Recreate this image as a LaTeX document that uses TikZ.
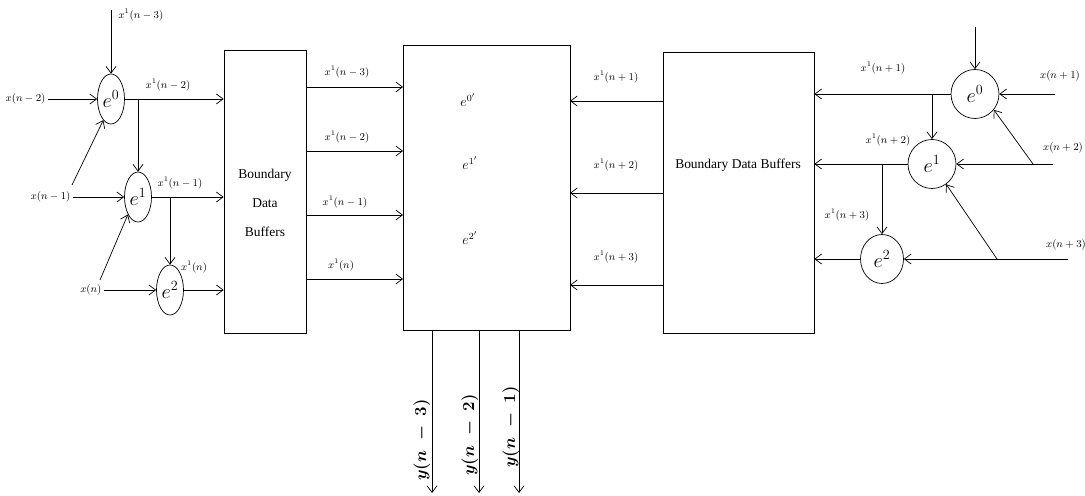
\documentclass[tikz,border=0pt]{standalone}
\usepackage{amsmath}
\usepackage{fontspec}
\setmainfont{Liberation Serif}
\usetikzlibrary{shapes.geometric,arrows.meta}

\begin{document}
\begin{tikzpicture}[x=0.3mm, y=-0.3mm,
    arrowline/.style={draw=black, line width=0.6pt, -{Straight Barb[length=2mm, width=3mm]}},
    lelem/.style={ellipse, draw=black, line width=0.6pt, minimum width=8.1mm, minimum height=15mm, inner sep=0pt, font=\LARGE},
    relem/.style={ellipse, draw=black, line width=0.6pt, minimum width=14.4mm, minimum height=14.7mm, inner sep=0pt, font=\LARGE},
    bufferbox/.style={rectangle, draw=black, line width=0.6pt, inner sep=0pt},
    buftext/.style={font=\fontsize{11.5}{25}\selectfont, align=center},
    sig/.style={font=\small, inner sep=2pt},
    coresig/.style={font=\large},
    outsig/.style={font=\Large\boldmath, rotate=90, inner sep=1pt}
]

\useasboundingbox (0,0) rectangle (1085,496);

% left filter elements
\node[lelem] (le0) at (111,99) {$e^0$};
\node[lelem] (le1) at (138,197) {$e^1$};
\node[lelem] (le2) at (170,290) {$e^2$};

\node[sig, anchor=east] (xnm2) at (48,99) {$x(n-2)$};
\node[sig, anchor=east] (xnm1) at (73,197) {$x(n-1)$};
\node[sig, anchor=east] (xn) at (104,290) {$x(n)$};
\node[sig, anchor=west] (xtop) at (116,15) {$x^1(n-3)$};

\coordinate (ltop) at (111,10);
\coordinate (ld0) at (72,185);
\coordinate (ld1) at (100,280);
\coordinate (lb0) at (le1 |- le0);
\coordinate (lb1) at (le2 |- le1);

\draw[arrowline] (ltop) -- (le0.north);
\draw[arrowline] (xnm2.east) -- (le0.west);
\draw[arrowline] (xnm1.east) -- (le1.west);
\draw[arrowline] (xn.east) -- (le2.west);
\draw[arrowline] (ld0) -- (le0.250);
\draw[arrowline] (ld1) -- (le1.240);
\draw[arrowline] (lb0) -- (le1.north);
\draw[arrowline] (lb1) -- (le2.north);

% left buffers
\node[bufferbox, minimum width=24.6mm, minimum height=84.9mm] (bufL) at (265,191.5) {};
\node[buftext] (bufLtext) at (265,203) {Boundary\\Data\\Buffers};

\draw[arrowline] (le0.east) -- (bufL.west |- le0.east);
\draw[arrowline] (le1.east) -- (bufL.west |- le1.east);
\draw[arrowline] (le2.east) -- (bufL.west |- le2.east);

\node[sig] (lo0) at (168,85) {$x^1(n-2)$};
\node[sig] (lo1) at (180,183) {$x^1(n-1)$};
\node[sig] (lo2) at (194,267) {$x^1(n)$};

% core block
\node[bufferbox, minimum width=50.1mm, minimum height=85.5mm] (core) at (486.5,187.5) {};
\node[coresig] (c0) at (468,100) {$e^{0'}$};
\node[coresig] (c1) at (470,163) {$e^{1'}$};
\node[coresig] (c2) at (470,238) {$e^{2'}$};

\coordinate (cl1) at (403,87);
\coordinate (cl2) at (403,151);
\coordinate (cl3) at (403,215);
\coordinate (cl4) at (403,279);
\coordinate (cr1) at (570,101);
\coordinate (cr2) at (570,193);
\coordinate (cr3) at (570,285);

\draw[arrowline] (bufL.east |- cl1) -- (cl1);
\draw[arrowline] (bufL.east |- cl2) -- (cl2);
\draw[arrowline] (bufL.east |- cl3) -- (cl3);
\draw[arrowline] (bufL.east |- cl4) -- (cl4);

\node[sig] (m1) at (347,72) {$x^1(n-3)$};
\node[sig] (m2) at (347,137) {$x^1(n-2)$};
\node[sig] (m3) at (345,202) {$x^1(n-1)$};
\node[sig] (m4) at (341,265) {$x^1(n)$};

% outputs
\coordinate (yo1) at (432,493);
\coordinate (yo2) at (479,493);
\coordinate (yo3) at (519,493);
\draw[arrowline] (core.south -| yo1) -- (yo1);
\draw[arrowline] (core.south -| yo2) -- (yo2);
\draw[arrowline] (core.south -| yo3) -- (yo3);
\node[outsig] (y1) at (422,440) {$y(n\;-\;3)$};
\node[outsig] (y2) at (470,435) {$y(n\;-\;2)$};
\node[outsig] (y3) at (511,427) {$y(n\;-\;1)$};

% right buffers
\node[bufferbox, minimum width=45.3mm, minimum height=84.3mm] (bufR) at (738.5,192.5) {};
\node[buftext] (bufRtext) at (738,165) {Boundary Data Buffers};

\draw[arrowline] (bufR.west |- cr1) -- (cr1);
\draw[arrowline] (bufR.west |- cr2) -- (cr2);
\draw[arrowline] (bufR.west |- cr3) -- (cr3);

\node[sig] (r1) at (616,77) {$x^1(n+1)$};
\node[sig] (r2) at (616,165) {$x^1(n+2)$};
\node[sig] (r3) at (616,257) {$x^1(n+3)$};

% right filter elements
\node[relem] (re0) at (975,94) {$e^0$};
\node[relem] (re1) at (932,164) {$e^1$};
\node[relem, minimum width=12.9mm] (re2) at (882,259) {$e^2$};

\node[sig] (xnp1) at (1060,76) {$x(n+1)$};
\node[sig] (xnp2) at (1063,148) {$x(n+2)$};
\node[sig] (xnp3) at (1066,245) {$x(n+3)$};

\coordinate (rtop) at (975,27);
\coordinate (s1) at (1055,94);
\coordinate (s2) at (1053,164);
\coordinate (s3) at (1068,259);
\coordinate (d1) at (1033,164);
\coordinate (d2) at (997,259);
\coordinate (rb0) at (re1 |- re0);
\coordinate (rb1) at (re2 |- re1);

\draw[arrowline] (rtop) -- (re0.north);
\draw[arrowline] (s1) -- (re0.east);
\draw[arrowline] (s2) -- (re1.east);
\draw[arrowline] (s3) -- (re2.east);
\draw[arrowline] (d1) -- (re0.-40);
\draw[arrowline] (d2) -- (re1.-55);
\draw[arrowline] (rb0) -- (re1.north);
\draw[arrowline] (rb1) -- (re2.north);

\draw[arrowline] (re0.west) -- (bufR.east |- re0.west);
\draw[arrowline] (re1.west) -- (bufR.east |- re1.west);
\draw[arrowline] (re2.west) -- (bufR.east |- re2.west);

\node[sig] (ro0) at (883,68) {$x^1(n+1)$};
\node[sig] (ro1) at (888,140) {$x^1(n+2)$};
\node[sig] (ro2) at (847,215) {$x^1(n+3)$};

\end{tikzpicture}
\end{document}
